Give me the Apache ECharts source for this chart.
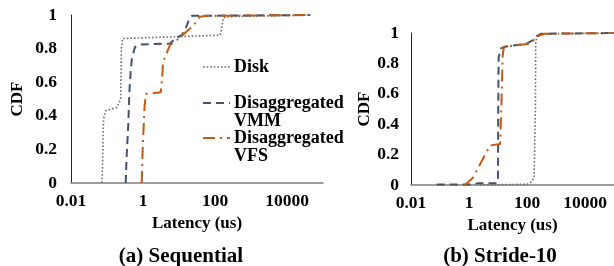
<!DOCTYPE html>
<html>
<head>
<meta charset="utf-8">
<script src="https://cdn.jsdelivr.net/npm/echarts@6/dist/echarts.min.js"></script>
<style>
html,body{margin:0;padding:0;background:#fff;}
#chart{width:614px;height:266px;}
</style>
</head>
<body>
<div id="chart"></div>
<script>
// 数据 (latency in us, CDF)
var yTicks = [0, 0.2, 0.4, 0.6, 0.8, 1];
var xTicks = [0.01, 1, 100, 10000];
var seriesNames = ['Disk', 'Disaggregated\nVMM', 'Disaggregated\nVFS'];

// (a) Sequential
var seqDiskLat = [0.072, 0.075, 0.08, 0.092, 0.19, 0.24, 0.25, 0.27, 140, 155, 170, 200, 44000];
var seqDiskCdf = [0, 0.1, 0.38, 0.43, 0.45, 0.5, 0.8, 0.86, 0.88, 0.93, 0.98, 0.99, 1];
var seqVmmLat = [0.33, 0.35, 0.39, 0.42, 0.46, 0.49, 0.6, 0.85, 5.6, 8, 12, 16, 19, 23, 44000];
var seqVmmCdf = [0, 0.15, 0.35, 0.55, 0.68, 0.74, 0.81, 0.825, 0.83, 0.86, 0.88, 0.93, 0.975, 0.995, 1];
var seqVfsLat = [0.92, 0.98, 1.1, 1.2, 3.1, 3.4, 3.6, 4.3, 5.6, 8.7, 16, 25, 38, 64, 44000];
var seqVfsCdf = [0, 0.2, 0.45, 0.53, 0.54, 0.62, 0.72, 0.76, 0.82, 0.85, 0.9, 0.935, 0.99, 0.995, 1];

// (b) Stride-10
var strDiskLat = [2.4, 100, 145, 175, 195, 200, 240, 330, 100000];
var strDiskCdf = [0, 0.005, 0.02, 0.05, 0.5, 0.95, 0.98, 0.995, 1];
var strVmmLat = [0.077, 1.5, 2, 4, 9, 10, 10.2, 10.5, 13, 18, 40, 98, 150, 215, 300, 100000];
var strVmmCdf = [0.003, 0.003, 0.012, 0.012, 0.012, 0.03, 0.5, 0.84, 0.9, 0.91, 0.92, 0.93, 0.95, 0.98, 0.995, 1];
var strVfsLat = [0.72, 1.4, 3.6, 5.3, 11.8, 13, 14.5, 16, 44, 125, 240, 400, 100000];
var strVfsCdf = [0, 0.05, 0.2, 0.26, 0.27, 0.5, 0.85, 0.91, 0.92, 0.93, 0.98, 0.995, 1];

function pairs(xs, ys){
	var out = [];
	for (var i = 0; i < xs.length; i++) out.push([xs[i], ys[i]]);
	return out;
}

var FONT = 'Liberation Serif';
var labelStyle = {fontFamily: FONT, fontWeight: 'bold', fontSize: 17, color: '#000'};

function xAxisFor(grid, gap){
	return {
		type: 'log', logBase: 100, gridIndex: grid,
		min: xTicks[0], max: 100000,
		name: 'Latency (us)', nameLocation: 'middle', nameGap: gap,
		nameTextStyle: labelStyle,
		axisLine: {show: true, lineStyle: {color: '#7f7f7f', width: 1.5}},
		axisTick: {show: false},
		splitLine: {show: false},
		axisLabel: Object.assign({
			margin: 9, showMaxLabel: false,
			formatter: function(v){ return String(+(+v).toPrecision(3)); }
		}, labelStyle, {fontSize: 17.5})
	};
}
function yAxisFor(grid, gap, margin){
	return {
		type: 'value', gridIndex: grid,
		min: yTicks[0], max: yTicks[yTicks.length - 1], interval: 0.2,
		name: 'CDF', nameLocation: 'middle', nameGap: gap,
		nameTextStyle: labelStyle,
		axisLine: {show: true, lineStyle: {color: '#262626', width: 1}},
		axisTick: {show: false},
		splitLine: {show: false},
		axisLabel: Object.assign({margin: margin}, labelStyle, {fontSize: 17.5})
	};
}

var DISK = {color: '#6e6e6e', width: 1.6, type: [1.6, 2]};
var VMM = {color: '#44546A', width: 2, type: [8, 5]};
var VFS = {color: '#C55A11', width: 2, type: [12, 5, 2, 5]};
var styles = [DISK, VMM, VFS];

function line(name, data, style, idx){
	return {
		name: name, type: 'line', xAxisIndex: idx, yAxisIndex: idx,
		data: data, showSymbol: false, symbol: 'none',
		lineStyle: style, itemStyle: {color: style.color},
		animation: false, silent: true
	};
}

// 图例 (drawn by hand so the key sits on the first text line)
var legendY = [67, 103, 138];
var legendGraphics = [];
seriesNames.forEach(function(n, i){
	var s = styles[i];
	legendGraphics.push({
		type: 'line', shape: {x1: 203, y1: legendY[i], x2: 230, y2: legendY[i]},
		style: {stroke: s.color, lineWidth: s.width, lineDash: s.type}
	});
	legendGraphics.push({
		type: 'text', x: 234, y: legendY[i] - 9,
		style: {text: n, fill: '#000', font: 'bold 18px "Liberation Serif"',
			lineHeight: 18, verticalAlign: 'top', align: 'left'}
	});
});

var chart = echarts.init(document.getElementById('chart'));
chart.setOption({
	animation: false,
	grid: [
		{left: 71, right: 291, top: 15, bottom: 83},
		{left: 411, right: 0, top: 33, bottom: 81}
	],
	xAxis: [xAxisFor(0, 28), xAxisFor(1, 26)],
	yAxis: [yAxisFor(0, 45, 14), yAxisFor(1, 36, 12)],
	series: [
		line(seriesNames[0], pairs(seqDiskLat, seqDiskCdf), DISK, 0),
		line(seriesNames[1], pairs(seqVmmLat, seqVmmCdf), VMM, 0),
		line(seriesNames[2], pairs(seqVfsLat, seqVfsCdf), VFS, 0),
		line(seriesNames[0], pairs(strDiskLat, strDiskCdf), DISK, 1),
		line(seriesNames[1], pairs(strVmmLat, strVmmCdf), VMM, 1),
		line(seriesNames[2], pairs(strVfsLat, strVfsCdf), VFS, 1)
	],
	graphic: legendGraphics.concat([
		{type: 'text', x: 181, y: 257, style: {text: '(a) Sequential', align: 'center', verticalAlign: 'middle',
			font: 'bold 21px "Liberation Serif"', fill: '#000'}},
		{type: 'text', x: 500, y: 257, style: {text: '(b) Stride-10', align: 'center', verticalAlign: 'middle',
			font: 'bold 21px "Liberation Serif"', fill: '#000'}}
	])
});
</script>
</body>
</html>
